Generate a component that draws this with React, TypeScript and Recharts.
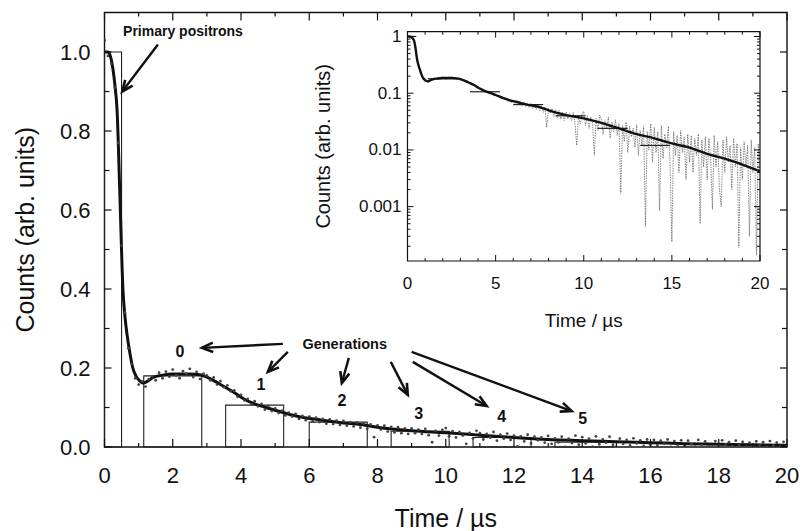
import React from 'react';
import { ComposedChart, Line, XAxis, YAxis, ReferenceArea, ReferenceLine, ReferenceDot } from 'recharts';

// ---------------- data ----------------
// measured counts, one sample every 0.1 µs from 0 to 20 µs
const countValues = [
  1.03, 0.99, 0.97, 0.91, 0.77, 0.51, 0.34, 0.25, 0.21, 0.174,
  0.158, 0.166, 0.153, 0.172, 0.179, 0.169, 0.188, 0.174, 0.191, 0.178,
  0.196, 0.181, 0.174, 0.192, 0.186, 0.198, 0.177, 0.19, 0.172, 0.186,
  0.181, 0.169, 0.176, 0.158, 0.167, 0.151, 0.156, 0.141, 0.143, 0.127,
  0.132, 0.118, 0.122, 0.108, 0.116, 0.103, 0.109, 0.095, 0.104, 0.091,
  0.098, 0.086, 0.092, 0.08, 0.087, 0.077, 0.084, 0.071, 0.079, 0.068,
  0.077, 0.065, 0.074, 0.063, 0.071, 0.059, 0.07, 0.058, 0.067, 0.056,
  0.066, 0.054, 0.063, 0.052, 0.062, 0.049, 0.06, 0.046, 0.057, 0.025,
  0.055, 0.044, 0.054, 0.039, 0.051, 0.037, 0.05, 0.035, 0.047, 0.033,
  0.047, 0.035, 0.044, 0.033, 0.046, 0.03, 0.012, 0.041, 0.029, 0.043,
  0.048, 0.027, 0.04, 0.024, 0.038, 0.029, 0.008, 0.036, 0.022, 0.041,
  0.035, 0.019, 0.033, 0.024, 0.038, 0.016, 0.031, 0.021, 0.034, 0.018,
  0.029, 0.0017, 0.027, 0.014, 0.031, 0.009, 0.026, 0.017, 0.024, 0.011,
  0.028, 0.008, 0.022, 0.012, 0.026, 0.00045, 0.021, 0.01, 0.029, 0.006,
  0.025, 0.009, 0.021, 0.00085, 0.027, 0.007, 0.019, 0.011, 0.026, 0.005,
  0.00024, 0.021, 0.008, 0.018, 0.004, 0.022, 0.009, 0.017, 0.003, 0.019,
  0.006, 0.018, 0.004, 0.016, 0.008, 0.019, 0.0005, 0.015, 0.005, 0.017,
  0.003, 0.016, 0.007, 0.0009, 0.018, 0.005, 0.014, 0.002, 0.001, 0.015,
  0.004, 0.017, 0.006, 0.012, 0.002, 0.016, 0.005, 0.013, 0.00019, 0.011,
  0.003, 0.014, 0.005, 0.012, 0.0003, 0.015, 0.004, 0.011, 0.00014, 0.013, 0.0035,
];
const countStep = 0.1;

// fitted curve
const fitTimes = [0, 0.1, 0.2, 0.3, 0.37, 0.45, 0.54, 0.6, 0.66, 0.75, 0.83, 0.92, 1.0, 1.13, 1.25, 1.42, 1.7, 2.0, 2.5, 2.8, 3.0, 3.2, 3.5, 3.8, 4.1, 4.4, 4.7, 5.0, 5.4, 5.8, 6.2, 6.6, 7.0, 7.5, 8.0, 8.5, 9.0, 10, 11, 12, 13, 14, 15, 16, 17, 18, 19, 20];
const fitValues = [1.0, 1.0, 0.98, 0.92, 0.85, 0.64, 0.4, 0.33, 0.285, 0.235, 0.2, 0.18, 0.17, 0.162, 0.166, 0.176, 0.182, 0.185, 0.185, 0.183, 0.177, 0.168, 0.153, 0.138, 0.121, 0.109, 0.101, 0.093, 0.083, 0.075, 0.07, 0.065, 0.061, 0.057, 0.05, 0.045, 0.041, 0.036, 0.03, 0.024, 0.019, 0.016, 0.013, 0.011, 0.0085, 0.007, 0.0055, 0.0042];

// generation histogram (primary, 0..5)
const genStart = [0, 1.15, 3.55, 6.0, 8.4, 10.8, 13.2];
const genEnd = [0.5, 2.85, 5.25, 7.7, 10.1, 12.5, 14.9];
const genHeight = [1.0, 0.18, 0.106, 0.063, 0.04, 0.024, 0.012];

// ticks
const mainXTicks = [0, 1, 2, 3, 4, 5, 6, 7, 8, 9, 10, 11, 12, 13, 14, 15, 16, 17, 18, 19, 20];
const mainYTicks = [0, 0.1, 0.2, 0.3, 0.4, 0.5, 0.6, 0.7, 0.8, 0.9, 1.0];
const insetXTicks = mainXTicks;
const insetYTicks = [
  0.0002, 0.0003, 0.0004, 0.0005, 0.0006, 0.0007, 0.0008, 0.0009,
  0.001, 0.002, 0.003, 0.004, 0.005, 0.006, 0.007, 0.008, 0.009,
  0.01, 0.02, 0.03, 0.04, 0.05, 0.06, 0.07, 0.08, 0.09,
  0.1, 0.2, 0.3, 0.4, 0.5, 0.6, 0.7, 0.8, 0.9, 1,
];
const insetYLabels = [0.001, 0.01, 0.1, 1];

const countData = countValues.map((v, i) => ({ t: Math.round(i * countStep * 10) / 10, v }));
const fitData = fitTimes.map((t, i) => ({ t, v: fitValues[i] }));

// annotations (data coordinates)
const arrows = [
  { from: [1.566, 1.019], to: [0.52, 0.9] },
  { from: [5.227, 0.261], to: [2.855, 0.251] },
  { from: [5.373, 0.241], to: [4.788, 0.19] },
  { from: [7.16, 0.2256], to: [6.955, 0.162] },
  { from: [8.389, 0.2155], to: [8.887, 0.132] },
  { from: [9.034, 0.2155], to: [11.2, 0.104] },
  { from: [9.0, 0.241], to: [13.69, 0.091] },
];
const notes = [
  { text: 'Primary positrons', x: 2.3, y: 1.052, size: 14 },
  { text: 'Generations', x: 7.04, y: 0.261, size: 14.5 },
  { text: '0', x: 2.21, y: 0.241, size: 16 },
  { text: '1', x: 4.583, y: 0.157, size: 16 },
  { text: '2', x: 6.955, y: 0.1166, size: 16 },
  { text: '3', x: 9.21, y: 0.086, size: 16 },
  { text: '4', x: 11.64, y: 0.076, size: 16 },
  { text: '5', x: 14.01, y: 0.071, size: 16 },
];

// ---------------- layout ----------------
const FONT = '"Liberation Sans", Arial, Helvetica, sans-serif';
const INK = '#111';
const M = { left: 104.5, right: 787, top: 12.5, bottom: 447 };
const IN = { left: 407.5, right: 760, top: 31.7, bottom: 261 };

const MainXTick = (props: any) => {
  const { x, y, payload } = props;
  const v = payload.value;
  const major = v % 2 === 0;
  const len = major ? 8 : 4;
  return (
    <g>
      <line x1={x} x2={x} y1={y} y2={y - len} stroke={INK} strokeWidth={1.2} />
      <line x1={x} x2={x} y1={M.top} y2={M.top + len} stroke={INK} strokeWidth={1.2} />
      {major && (
        <text x={x} y={y + 28} textAnchor="middle" dominantBaseline="central" fontFamily={FONT} fontSize={22} fill={INK}>
          {v}
        </text>
      )}
    </g>
  );
};

const MainYTick = (props: any) => {
  const { x, y, payload } = props;
  const v = payload.value;
  const major = Math.round(v * 10) % 2 === 0;
  const len = major ? 7 : 5;
  return (
    <g>
      <line x1={x} x2={x + len} y1={y} y2={y} stroke={INK} strokeWidth={1.2} />
      <line x1={M.right - len} x2={M.right} y1={y} y2={y} stroke={INK} strokeWidth={1.2} />
      {major && (
        <text x={x - 14} y={y} textAnchor="end" dominantBaseline="central" fontFamily={FONT} fontSize={22} fill={INK}>
          {v.toFixed(1)}
        </text>
      )}
    </g>
  );
};

const InsetXTick = (props: any) => {
  const { x, y, payload } = props;
  const v = payload.value;
  const major = v % 5 === 0;
  const len = major ? 6 : 3;
  return (
    <g>
      <line x1={x} x2={x} y1={y} y2={y - len} stroke={INK} strokeWidth={1} />
      <line x1={x} x2={x} y1={IN.top} y2={IN.top + len} stroke={INK} strokeWidth={1} />
      {major && (
        <text x={x} y={y + 22} textAnchor="middle" dominantBaseline="central" fontFamily={FONT} fontSize={17} fill={INK}>
          {v}
        </text>
      )}
    </g>
  );
};

const InsetYTick = (props: any) => {
  const { x, y, payload } = props;
  const v = payload.value;
  const major = insetYLabels.includes(v);
  const len = major ? 6 : 3;
  return (
    <g>
      <line x1={x} x2={x + len} y1={y} y2={y} stroke={INK} strokeWidth={1} />
      <line x1={IN.right - len} x2={IN.right} y1={y} y2={y} stroke={INK} strokeWidth={1} />
      {major && (
        <text x={x - 6} y={y} textAnchor="end" dominantBaseline="central" fontFamily={FONT} fontSize={17} fill={INK}>
          {String(v)}
        </text>
      )}
    </g>
  );
};

const Arrow = (p: any) => {
  const { x1, y1, x2, y2 } = p;
  const ang = Math.atan2(y2 - y1, x2 - x1);
  const L = 12;
  const A = 0.4;
  const ax = x2 - L * Math.cos(ang - A);
  const ay = y2 - L * Math.sin(ang - A);
  const bx = x2 - L * Math.cos(ang + A);
  const by = y2 - L * Math.sin(ang + A);
  return (
    <g>
      <line x1={x1} y1={y1} x2={x2} y2={y2} stroke={INK} strokeWidth={2.4} />
      <polyline points={`${ax},${ay} ${x2},${y2} ${bx},${by}`} fill="none" stroke={INK} strokeWidth={2.6} />
    </g>
  );
};

export default function App() {
  return (
    <div style={{ position: 'relative', width: 803, height: 531, background: '#fff' }}>
      <style>{'body{margin:0;background:#fff}'}</style>
      <div style={{ position: 'absolute', left: 0, top: 0 }}>
        <ComposedChart width={803} height={531} margin={{ top: M.top, right: 803 - M.right, bottom: 531 - M.bottom - 1, left: M.left - 1 }}>
          <XAxis
            dataKey="t"
            type="number"
            domain={[0, 20]}
            ticks={mainXTicks}
            interval={0}
            allowDataOverflow
            height={1}
            tickSize={0}
            tickMargin={0}
            tickLine={false}
            axisLine={false}
            tick={MainXTick}
            label={(p: any) => (
              <text x={(M.left + M.right) / 2} y={518} textAnchor="middle" dominantBaseline="central" fontFamily={FONT} fontSize={25} fill={INK}>
                Time / µs
              </text>
            )}
          />
          <YAxis
            type="number"
            domain={[0, 1.1]}
            ticks={mainYTicks}
            interval={0}
            allowDataOverflow
            width={1}
            tickSize={0}
            tickMargin={0}
            tickLine={false}
            axisLine={false}
            tick={MainYTick}
            label={(p: any) => (
              <text transform={`translate(25, ${(M.top + M.bottom) / 2}) rotate(-90)`} textAnchor="middle" dominantBaseline="central" fontFamily={FONT} fontSize={25} fill={INK}>
                Counts (arb. units)
              </text>
            )}
          />
          <ReferenceArea x1={0} x2={20} y1={0} y2={1.1} fill="none" fillOpacity={0} stroke={INK} strokeWidth={1.4} ifOverflow="visible" />
          {genStart.map((s, i) => (
            <ReferenceArea key={`g${i}`} x1={s} x2={genEnd[i]} y1={0} y2={genHeight[i]} fill="none" fillOpacity={0} stroke="#222" strokeWidth={1.1} ifOverflow="visible" />
          ))}
          <Line data={countData} dataKey="v" stroke="none" dot={{ r: 1.4, fill: '#444', stroke: 'none' }} isAnimationActive={false} />
          <Line data={fitData} dataKey="v" type="monotone" stroke={INK} strokeWidth={3} dot={false} isAnimationActive={false} />
          {arrows.map((a, i) => (
            <ReferenceLine key={`a${i}`} segment={[{ x: a.from[0], y: a.from[1] }, { x: a.to[0], y: a.to[1] }]} shape={Arrow} ifOverflow="visible" />
          ))}
          {notes.map((n, i) => (
            <ReferenceDot
              key={`n${i}`}
              x={n.x}
              y={n.y}
              r={0}
              ifOverflow="visible"
              shape={(p: any) => (
                <text x={p.cx} y={p.cy} textAnchor="middle" dominantBaseline="central" fontFamily={FONT} fontWeight="bold" fontSize={n.size} fill={INK}>
                  {n.text}
                </text>
              )}
            />
          ))}
        </ComposedChart>
      </div>
      <div style={{ position: 'absolute', left: 0, top: 0 }}>
        <ComposedChart width={803} height={531} margin={{ top: IN.top, right: 803 - IN.right, bottom: 531 - IN.bottom - 1, left: IN.left - 1 }}>
          <XAxis
            dataKey="t"
            type="number"
            domain={[0, 20]}
            ticks={insetXTicks}
            interval={0}
            allowDataOverflow
            height={1}
            tickSize={0}
            tickMargin={0}
            tickLine={false}
            axisLine={false}
            tick={InsetXTick}
            label={(p: any) => (
              <text x={(IN.left + IN.right) / 2} y={320} textAnchor="middle" dominantBaseline="central" fontFamily={FONT} fontSize={19} fill={INK}>
                Time / µs
              </text>
            )}
          />
          <YAxis
            type="number"
            scale="log"
            domain={[0.00011, 1.215]}
            ticks={insetYTicks}
            interval={0}
            allowDataOverflow
            width={1}
            tickSize={0}
            tickMargin={0}
            tickLine={false}
            axisLine={false}
            tick={InsetYTick}
            label={(p: any) => (
              <text transform={`translate(323, ${(IN.top + IN.bottom) / 2}) rotate(-90)`} textAnchor="middle" dominantBaseline="central" fontFamily={FONT} fontSize={20} fill={INK}>
                Counts (arb. units)
              </text>
            )}
          />
          <ReferenceArea x1={0} x2={20} y1={0.00011} y2={1.215} fill="#fff" fillOpacity={1} stroke={INK} strokeWidth={1.2} ifOverflow="visible" />
          <Line data={countData} dataKey="v" stroke="#555" strokeWidth={0.7} strokeDasharray="1.5 1" dot={false} isAnimationActive={false} />
          {genStart.map((s, i) => (
            <ReferenceLine key={`t${i}`} segment={[{ x: s, y: genHeight[i] }, { x: genEnd[i], y: genHeight[i] }]} stroke="#222" strokeWidth={1.2} ifOverflow="visible" />
          ))}
          <Line data={fitData} dataKey="v" type="monotone" stroke={INK} strokeWidth={2.4} dot={false} isAnimationActive={false} />
        </ComposedChart>
      </div>
    </div>
  );
}
